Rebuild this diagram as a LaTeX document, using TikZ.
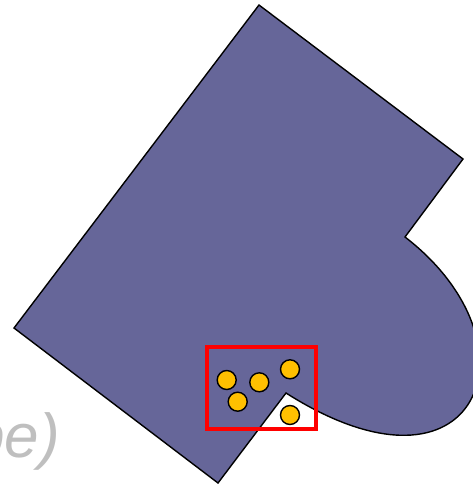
\documentclass[tikz,border=0pt]{standalone}
\usepackage{fontspec}
\setmainfont{Liberation Sans}
\definecolor{shapefill}{HTML}{666699}
\definecolor{dotfill}{HTML}{FFC000}
\definecolor{labelgray}{HTML}{BFBFBF}
\tikzset{
  blob/.style={fill=shapefill, draw=black, line width=1.4pt, line join=miter},
  dot/.style={circle, fill=dotfill, draw=black, line width=1.4pt, minimum size=19pt, inner sep=0pt},
  frame/.style={draw=red, line width=4pt},
  lbl/.style={text=labelgray, font=\fontsize{62}{62}\selectfont\itshape, inner sep=0pt}
}
\begin{document}
\begin{tikzpicture}[x=1pt,y=-1pt]
\useasboundingbox (0,0) rectangle (472,485);
\draw[blob] (259,5) -- (463,159) -- (405,237)
  .. controls (545,345) and (478,515) .. (286,393)
  -- (218,483) -- (14,328) -- cycle;
\node[dot] (d1) at (226.7,380) {};
\node[dot] (d2) at (259.3,382.3) {};
\node[dot] (d3) at (290,369.3) {};
\node[dot] (d4) at (237.7,401.7) {};
\node[dot] (d5) at (290,415) {};
\draw[frame] (207,347) rectangle (316,429);
\node[lbl, anchor=base east] (t) at (60,457) {pe)};
\end{tikzpicture}
\end{document}
